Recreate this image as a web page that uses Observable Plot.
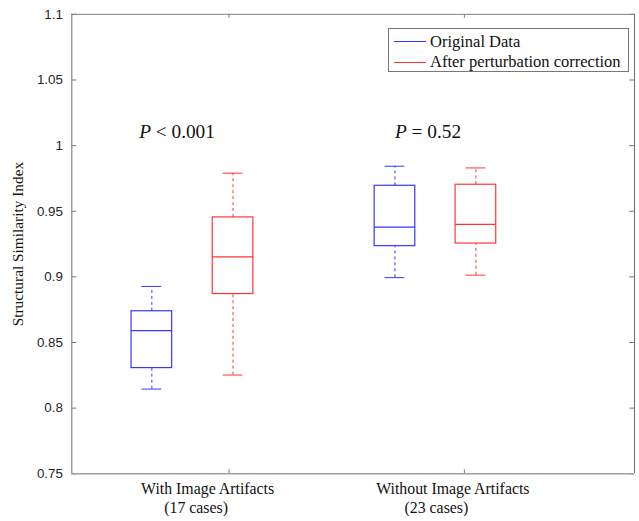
<!DOCTYPE html>
<html>
<head>
<meta charset="utf-8">
<script src="https://cdn.jsdelivr.net/npm/d3@7"></script>
<script src="https://cdn.jsdelivr.net/npm/@observablehq/plot@0.6"></script>
<style>
  html, body { margin: 0; padding: 0; background: #fff; overflow: hidden; }
  #wrap { position: relative; width: 639px; height: 521px; overflow: hidden; }
  #legend {
    position: absolute; left: 388px; top: 28px; width: 241px; height: 44px;
    border: 1px solid #777; background: #fff; box-sizing: border-box;
    font-family: "Liberation Serif", "Times New Roman", serif; font-size: 16.5px; color: #111;
  }
  .row { position: absolute; left: 5px; height: 20px; display: flex; align-items: center; white-space: nowrap; }
  .sw { display: inline-block; width: 32px; height: 1px; margin-right: 4px; }
</style>
</head>
<body>
<div id="wrap">
  <div id="chart"></div>
  <div id="legend"></div>
</div>
<script>
// ---- data ----
const groups = ["With Image Artifacts", "Without Image Artifacts"];
const groupCases = ["(17 cases)", "(23 cases)"];
const groupTicks = [1, 2];
const groupLabelX = [0.909, 1.951];
const groupCasesX = [0.860, 1.881];
const series = ["Original Data", "After perturbation correction"];
const seriesColors = ["#3535ff", "#ff3535"];
const boxPos = [0.672, 1.017, 1.705, 2.049];
const boxSeries = [0, 1, 0, 1];
const whiskerLow  = [0.8145, 0.8252, 0.8994, 0.9013];
const q1          = [0.8305, 0.8869, 0.9234, 0.9254];
const median      = [0.8590, 0.9153, 0.9379, 0.9400];
const q3          = [0.8738, 0.9453, 0.9694, 0.9702];
const whiskerHigh = [0.8927, 0.9790, 0.9843, 0.9830];
const pValues = ["< 0.001", "= 0.52"];
const pX = [0.618, 1.705];
const pY = 1.0104;
const yTicks = [0.75, 0.8, 0.85, 0.9, 0.95, 1, 1.05, 1.1];
const xDomain = [0.332, 2.723];
const yDomain = [0.75, 1.1];

// ---- build ----
const boxes = boxPos.map((p, i) => ({
  pos: p, s: boxSeries[i], lo: whiskerLow[i], q1: q1[i], med: median[i], q3: q3[i], hi: whiskerHigh[i]
}));
const halfBox = 0.0863, halfCap = 0.042;
const colorOf = d => seriesColors[d.s];
const serif = "Liberation Serif, Times New Roman, serif";
const tickLenX = 0.021, tickLenY = 0.003;

const plot = Plot.plot({
  width: 645, height: 521,
  marginLeft: 72, marginRight: 5, marginTop: 14, marginBottom: 43.3,
  x: {type: "linear", domain: xDomain, axis: null},
  y: {domain: yDomain, axis: null},
  style: {background: "transparent"},
  marks: [
    // y tick labels
    Plot.axisY({ticks: yTicks, tickSize: 0, tickPadding: 9, tickFormat: d => String(d),
      fontSize: 13.5, fontFamily: "Liberation Sans, Arial, sans-serif", fill: "#262626", label: null}),
    // inward ticks left & right
    Plot.ruleY(yTicks, {x1: xDomain[0], x2: xDomain[0] + tickLenX, stroke: "#777"}),
    Plot.ruleY(yTicks, {x1: xDomain[1], x2: xDomain[1] - tickLenX, stroke: "#777"}),
    Plot.ruleX(groupTicks, {y1: yDomain[0], y2: yDomain[0] + tickLenY, stroke: "#777"}),
    Plot.ruleX(groupTicks, {y1: yDomain[1], y2: yDomain[1] - tickLenY, stroke: "#777"}),
    // frame
    Plot.ruleX([xDomain[0]], {stroke: "#6a6a6a"}),
    Plot.ruleX([xDomain[1]], {stroke: "#6a6a6a"}),
    Plot.ruleY([yDomain[0]], {stroke: "#a0a0a0", strokeWidth: 1.6}),
    Plot.ruleY([yDomain[1]], {stroke: "#808080"}),
    // whiskers
    Plot.ruleX(boxes, {x: "pos", y1: "lo", y2: "q1", stroke: colorOf, strokeDasharray: "3,3"}),
    Plot.ruleX(boxes, {x: "pos", y1: "q3", y2: "hi", stroke: colorOf, strokeDasharray: "3,3"}),
    Plot.ruleY(boxes, {y: "lo", x1: d => d.pos - halfCap, x2: d => d.pos + halfCap, stroke: colorOf}),
    Plot.ruleY(boxes, {y: "hi", x1: d => d.pos - halfCap, x2: d => d.pos + halfCap, stroke: colorOf}),
    // boxes
    Plot.rect(boxes, {x1: d => d.pos - halfBox, x2: d => d.pos + halfBox, y1: "q1", y2: "q3",
      fill: "none", stroke: colorOf, strokeWidth: 1.2}),
    Plot.ruleY(boxes, {y: "med", x1: d => d.pos - halfBox, x2: d => d.pos + halfBox, stroke: colorOf, strokeWidth: 1.2}),
    // x labels
    Plot.text(groups, {x: (d, i) => groupLabelX[i], y: yDomain[0], text: d => d, dy: 15.5,
      fontFamily: serif, fontSize: 16, fill: "#111", lineAnchor: "middle"}),
    Plot.text(groupCases, {x: (d, i) => groupCasesX[i], y: yDomain[0], text: d => d, dy: 34,
      fontFamily: serif, fontSize: 16, fill: "#111", lineAnchor: "middle"}),
    // p values
    Plot.text(pValues, {x: (d, i) => pX[i], y: pY, text: () => "P", textAnchor: "start",
      fontFamily: serif, fontSize: 19.5, fontStyle: "italic", fill: "#111"}),
    Plot.text(pValues, {x: (d, i) => pX[i], y: pY, text: d => d, textAnchor: "start", dx: 16.8,
      fontFamily: serif, fontSize: 19.5, fill: "#111"}),
    // y label
    Plot.text(["Structural Similarity Index"], {frameAnchor: "left", text: d => d, rotate: -90, dx: -54,
      textAnchor: "middle", lineAnchor: "middle",
      fontFamily: serif, fontSize: 15.5, fill: "#111"})
  ]
});
document.getElementById("chart").appendChild(plot);

// legend
const lg = document.getElementById("legend");
series.forEach((s, i) => {
  const row = document.createElement("div");
  row.className = "row";
  row.style.top = (i === 0 ? 2.5 : 23) + "px";
  const sw = document.createElement("span");
  sw.className = "sw";
  sw.style.background = seriesColors[i];
  const t = document.createElement("span");
  t.textContent = s;
  row.appendChild(sw); row.appendChild(t);
  lg.appendChild(row);
});
</script>
</body>
</html>
